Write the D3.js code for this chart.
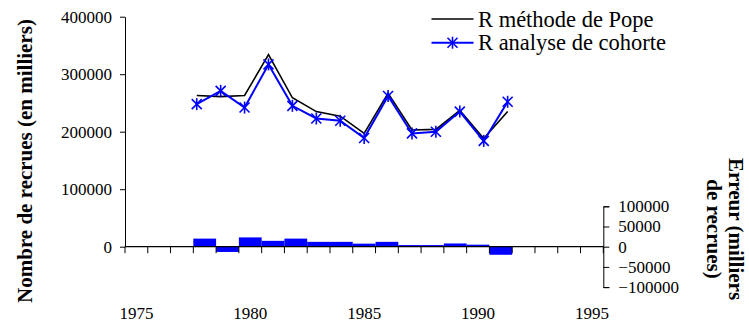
<!DOCTYPE html>
<html>
<head>
<meta charset="utf-8">
<script src="https://cdn.jsdelivr.net/npm/d3@7"></script>
<style>
  html, body { margin: 0; padding: 0; background: #fff; }
  svg { display: block; }
</style>
</head>
<body>
<svg id="chart" width="749" height="325"></svg>
<script>
// Recruitment estimates (thousands) by year
const years = [1978, 1979, 1980, 1981, 1982, 1983, 1984, 1985, 1986, 1987, 1988, 1989, 1990, 1991];
const popeR = [263000, 261000, 263000, 334000, 259000, 235000, 227000, 197000, 267000, 203000, 204000, 237000, 188000, 235000];
const cohortR = [248000, 271000, 242000, 317000, 245000, 223000, 219000, 189000, 262000, 197000, 200000, 235000, 184000, 252000];
// Error between the two estimates (thousands of recruits)
const errors = [20000, -13000, 23000, 14500, 20000, 12000, 12000, 7500, 12000, 4000, 4000, 8000, 5000, -20000];

// Axes
const axisYears = d3.range(1975, 1996);
const yearLabels = [1975, 1980, 1985, 1990, 1995];
const leftTicks = [0, 100000, 200000, 300000, 400000];
const rightTicks = [-100000, -50000, 0, 50000, 100000];

const seriesNames = ["R méthode de Pope", "R analyse de cohorte"];
const leftTitle = "Nombre de recrues (en milliers)";
const rightTitle = ["Erreur (milliers", "de recrues)"];

const FONT = "'Liberation Serif', Tinos, 'Times New Roman', Times, serif";
const svg = d3.select("#chart").style("font-family", FONT);
const blue = "#0000ff";

const x0 = 125, x1 = 603.3;
const yL = d3.scaleLinear().domain([0, 400000]).range([246.7, 16.7]);
const yR = d3.scaleLinear().domain([-100000, 100000]).range([246.7 + 40.4, 246.7 - 40.4]);
const xBand = d3.scaleBand().domain(axisYears).range([x0, x1]).padding(0);
const xLin = d3.scaleLinear().domain([1975, 1995]).range([x0, x1]);

// Error bars
svg.append("g").selectAll("rect")
  .data(years.map((yr, i) => ({ yr, v: errors[i] })))
  .join("rect")
  .attr("x", d => xBand(d.yr))
  .attr("width", xBand.bandwidth())
  .attr("y", d => Math.min(yR(d.v), yR(0)))
  .attr("height", d => Math.abs(yR(d.v) - yR(0)))
  .attr("fill", blue);

// Left axis
const gL = svg.append("g")
  .attr("transform", `translate(${x0},0)`)
  .call(d3.axisLeft(yL).tickValues(leftTicks).tickSize(5).tickSizeOuter(0).tickPadding(8).tickFormat(d3.format("d")));

// Right axis (error)
const gR = svg.append("g")
  .attr("transform", `translate(${x1},0)`)
  .call(d3.axisRight(yR).tickValues(rightTicks).tickSize(6).tickSizeOuter(6).tickPadding(9).tickFormat(d3.format("d")));

[gL, gR].forEach(g => {
  g.attr("font-family", null).attr("font-size", null);
  g.selectAll("text").style("font-family", FONT).style("font-size", "17px").attr("fill", "#000");
  g.selectAll("path, line").attr("stroke", "#000");
});

// Category axis along zero
const gX = svg.append("g");
gX.append("line")
  .attr("x1", x0).attr("x2", x1)
  .attr("y1", yL(0)).attr("y2", yL(0))
  .attr("stroke", "#000").attr("stroke-width", 1.2);
const boundaries = axisYears.map(y => xBand(y)).concat([xBand(1995) + xBand.bandwidth()]);
gX.selectAll("line.tick")
  .data(boundaries)
  .join("line")
  .attr("class", "tick")
  .attr("x1", d => d).attr("x2", d => d)
  .attr("y1", yL(0)).attr("y2", yL(0) + 6.5)
  .attr("stroke", "#000");
gX.selectAll("text")
  .data(yearLabels)
  .join("text")
  .attr("x", d => xBand(d) + xBand.bandwidth() / 2)
  .attr("y", 319)
  .attr("text-anchor", "middle")
  .style("font-family", FONT)
  .style("font-size", "17px")
  .text(d => d);

// Lines
const line = d3.line().x(d => xLin(d[0])).y(d => yL(d[1]));
svg.append("path")
  .datum(years.map((y, i) => [y, popeR[i]]))
  .attr("d", line)
  .attr("fill", "none").attr("stroke", "#000").attr("stroke-width", 1.6);
svg.append("path")
  .datum(years.map((y, i) => [y, cohortR[i]]))
  .attr("d", line)
  .attr("fill", "none").attr("stroke", blue).attr("stroke-width", 2);

// Asterisk marker
function star(g, cx, cy, r) {
  const s = g.append("g").attr("transform", `translate(${cx},${cy})`)
    .attr("stroke", blue).attr("stroke-width", 1.6).attr("fill", "none");
  s.append("line").attr("x1", -r).attr("y1", -r).attr("x2", r).attr("y2", r);
  s.append("line").attr("x1", -r).attr("y1", r).attr("x2", r).attr("y2", -r);
  s.append("line").attr("x1", 0).attr("y1", -r * 1.2).attr("x2", 0).attr("y2", r * 1.2);
}
const gm = svg.append("g");
years.forEach((y, i) => star(gm, xLin(y), yL(cohortR[i]), 5));

// Legend
const lg = svg.append("g");
lg.append("line").attr("x1", 431.5).attr("x2", 473.5).attr("y1", 19).attr("y2", 19)
  .attr("stroke", "#000").attr("stroke-width", 1.6);
lg.append("line").attr("x1", 431.5).attr("x2", 473.5).attr("y1", 42.7).attr("y2", 42.7)
  .attr("stroke", blue).attr("stroke-width", 2);
star(lg, 452.5, 42.7, 5);
lg.selectAll("text")
  .data(seriesNames)
  .join("text")
  .attr("x", 478)
  .attr("y", (d, i) => 26.6 + i * 23.7)
  .style("font-family", FONT)
  .style("font-size", "22.5px")
  .text(d => d);

// Axis titles
svg.append("text")
  .attr("transform", "translate(31.5,161) rotate(-90)")
  .attr("text-anchor", "middle")
  .style("font-family", FONT)
  .style("font-size", "21px").style("font-weight", "bold")
  .text(leftTitle);
svg.append("g").selectAll("text")
  .data(rightTitle)
  .join("text")
  .attr("transform", (d, i) => `translate(${728.5 - i * 21.5},229) rotate(90)`)
  .attr("text-anchor", "middle")
  .style("font-family", FONT)
  .style("font-size", "21px").style("font-weight", "bold")
  .text(d => d);
</script>
</body>
</html>
